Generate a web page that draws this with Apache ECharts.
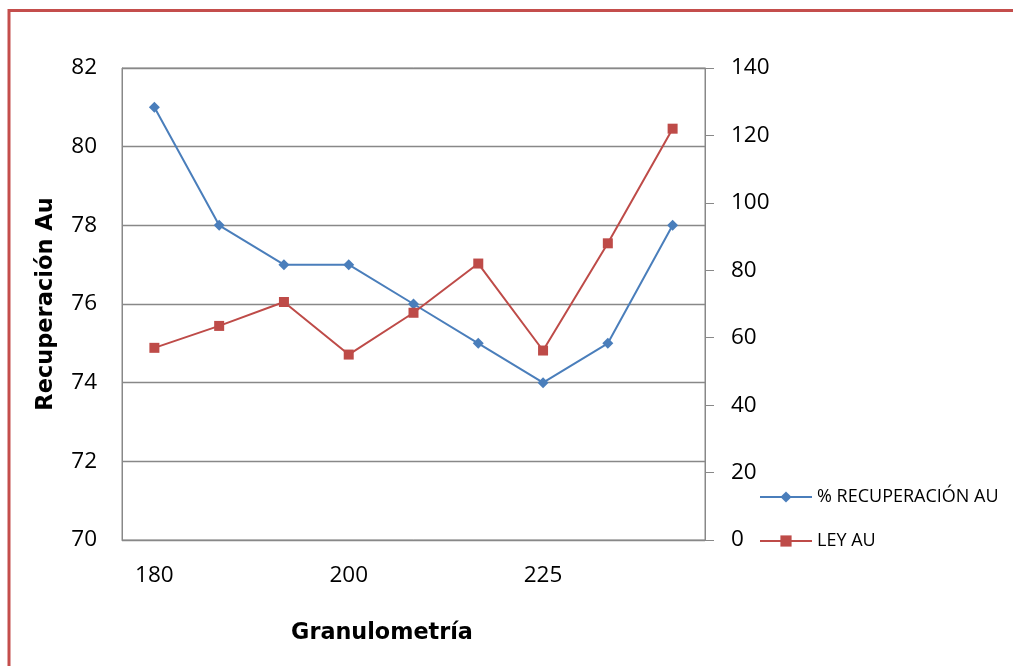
<!DOCTYPE html>
<html>
<head>
<meta charset="utf-8">
<script src="https://cdn.jsdelivr.net/npm/echarts@6/dist/echarts.min.js"></script>
<style>html,body{margin:0;padding:0;background:#fff}#c{width:1013px;height:666px}</style>
</head>
<body>
<div id="c"></div>
<script>
var categories = ['180', '', '', '200', '', '', '225', '', ''];
var recuperacion = [81, 78, 77, 77, 76, 75, 74, 75, 78];
var leyAu = [57, 63.5, 70.6, 55, 67.4, 82, 56.2, 88, 122];
var seriesNames = ['% RECUPERACIÓN AU', 'LEY AU'];

var chart = echarts.init(document.getElementById('c'), null, {renderer: 'canvas'});
var gridColor = '#888888';
chart.setOption({
  backgroundColor: '#fff',
  animation: false,
  graphic: [{
    type: 'rect', silent: true,
    shape: {x: 9, y: 10.5, width: 1100, height: 800},
    style: {fill: 'none', stroke: '#C44E4C', lineWidth: 3}
  }],
  grid: {left: 122, right: 308, top: 68, bottom: 126, show: true, borderColor: gridColor, borderWidth: 1, backgroundColor: 'transparent'},
  legend: {
    orient: 'vertical', left: 754, top: 482,
    itemWidth: 52, itemHeight: 14, itemGap: 24,
    textStyle: {fontFamily: 'Open Sans', fontSize: 18, color: '#000', lineHeight: 20},
    data: seriesNames
  },
  xAxis: {
    type: 'category', data: categories, boundaryGap: true,
    name: 'Granulometría', nameLocation: 'middle', nameGap: 82,
    nameTextStyle: {fontFamily: 'DejaVu Sans', fontWeight: 'bold', fontSize: 22.3, color: '#000', padding: [0, 63, 0, 0]},
    axisLine: {show: true, lineStyle: {color: gridColor, width: 1}},
    axisTick: {show: false},
    axisLabel: {interval: 0, margin: 24, fontFamily: 'Open Sans', fontSize: 22.5, color: '#000'}
  },
  yAxis: [{
    type: 'value', min: 70, max: 82, interval: 2, position: 'left',
    name: 'Recuperación Au', nameLocation: 'middle', nameGap: 64,
    nameTextStyle: {fontFamily: 'DejaVu Sans', fontWeight: 'bold', fontSize: 22.5, color: '#000'},
    axisLine: {show: true, lineStyle: {color: gridColor, width: 1}},
    axisTick: {show: false},
    axisLabel: {margin: 25, fontFamily: 'Open Sans', fontSize: 22.5, color: '#000'},
    splitLine: {show: true, lineStyle: {color: gridColor, width: 1.3}}
  }, {
    type: 'value', min: 0, max: 140, interval: 20, position: 'right',
    axisLine: {show: true, lineStyle: {color: gridColor, width: 1}},
    axisTick: {show: true, length: 9, lineStyle: {color: gridColor}},
    axisLabel: {margin: 26, fontFamily: 'Open Sans', fontSize: 22.5, color: '#000'},
    splitLine: {show: false}
  }],
  series: [{
    name: seriesNames[0], type: 'line', yAxisIndex: 0, data: recuperacion,
    symbol: 'diamond', symbolSize: 11, showAllSymbol: true,
    lineStyle: {color: '#4A7EBB', width: 2},
    itemStyle: {color: '#4A7EBB'}
  }, {
    name: seriesNames[1], type: 'line', yAxisIndex: 1, data: leyAu,
    symbol: 'rect', symbolSize: 10, showAllSymbol: true,
    lineStyle: {color: '#BE4B48', width: 2},
    itemStyle: {color: '#BE4B48'}
  }]
});
</script>
</body>
</html>
